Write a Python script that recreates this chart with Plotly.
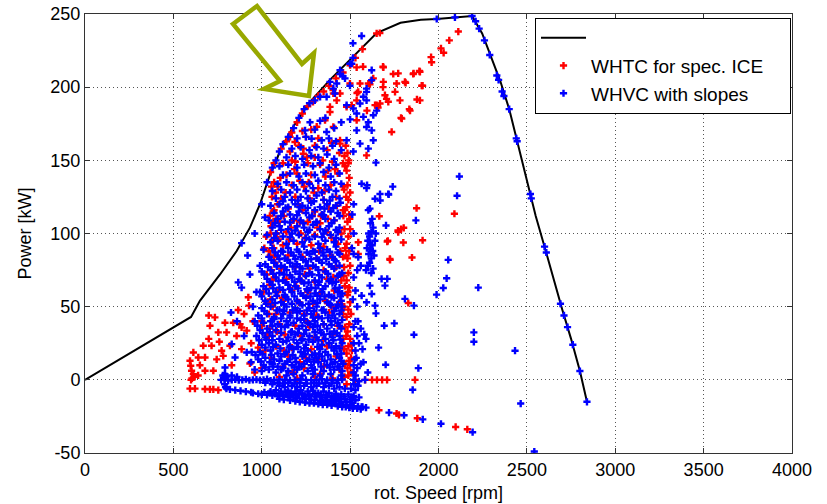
import plotly.graph_objects as go

# ---------------- data ----------------
full_load_rpm = [0, 600, 650, 764, 858, 933, 990, 1046, 1084, 1103, 1178, 1273, 1386, 1518, 1650,
                 1785, 1900, 1990, 2100, 2190, 2247, 2300, 2350, 2400, 2450, 2500, 2550, 2600, 2650,
                 2700, 2750, 2800, 2840]
full_load_kw = [0, 43, 54, 72, 88, 104, 120, 140, 150, 157, 173, 190, 205, 221, 237,
                244, 246, 246.6, 247.5, 248.6, 236.7, 220, 204, 185, 161, 136, 112, 91, 69,
                48, 28, 6, -15]

whtc_pts = [
    # low-speed region
    (924, 56.4), (867, 47.7), (928, 50.7), (735, 42.7), (792, 39), (839, 39), (877, 38), (886, 35.8),
    (707, 37), (754, 32.4), (801, 32.4), (915, 33.6), (858, 30), (669, 23.3), (716, 23.3), (773, 19.9),
    (820, 23.3), (886, 21), (613, 18.7), (641, 15.3), (679, 15.3), (745, 14), (782, 16.4), (933, 11.2),
    (594, 13), (598, 9.6), (603, 6.2), (613, 3.9), (679, 6.2), (726, 6.2), (594, -6), (622, -6),
    (679, -6.3), (707, -6.5), (726, -6.5), (754, -7), (600, 0), (620, 2), (650, 10), (700, 28),
    (760, 26), (830, 10), (900, 45), (950, 40), (940, 25), (960, 5), (605, 1), (640, 3), (700, 44),
    # left red edge of the cloud
    (1040, 45), (1050, 55), (1045, 65), (1055, 75), (1048, 85), (1060, 95), (1052, 105), (1065, 115),
    (1058, 125), (1070, 135), (1080, 60), (1085, 100), (1075, 80), (1090, 120), (1030, 30), (1020, 20),
    (1010, 60), (1000, 40), (1015, 90), (1062, 50), (1070, 70), (1066, 108), (1078, 128), (1044, 35),
    (1035, 52), (1028, 72), (1040, 88), (1046, 112), (1055, 132), (1068, 90), (1082, 110), (1025, 98),
    # right red stripe
    (1480, -3), (1490, 3), (1485, 8), (1495, 13), (1480, 18), (1490, 23), (1500, 28), (1485, 33),
    (1495, 38), (1480, 43), (1490, 48), (1500, 53), (1485, 58), (1495, 63), (1480, 68), (1490, 73),
    (1500, 78), (1485, 83), (1495, 88), (1480, 93), (1490, 98), (1500, 103), (1485, 108), (1495, 113),
    (1480, 118), (1490, 123), (1500, 128), (1485, 133), (1495, 138), (1480, 143), (1490, 148),
    (1485, 155), (1475, 160), (1505, 15), (1510, 20), (1500, 10), (1515, 5), (1478, 30), (1488, 60),
    (1478, 85), (1498, 110), (1478, 125), (1505, 45), (1492, 150), (1508, 24), (1503, 5),
    (1468, 2), (1470, 11), (1466, 21), (1471, 36), (1467, 50), (1470, 64), (1466, 77), (1472, 90),
    (1468, 103), (1470, 116), (1466, 130), (1471, 146), (1468, 153), (1462, 28), (1463, 71), (1462, 112),
    # scattered inside the cloud
    (1100, 2), (1200, 1), (1300, 2), (1400, 1),
    (1000, 8), (1120, 9), (1240, 8), (1350, 9), (1440, 7),
    (1050, 15), (1150, 16), (1250, 15), (1320, 14), (1420, 16),
    (980, 22), (1080, 23), (1170, 22), (1280, 21), (1370, 23), (1450, 22),
    (1040, 30), (1130, 31), (1220, 30), (1300, 29), (1400, 31),
    (1000, 37), (1100, 38), (1190, 37), (1270, 36), (1350, 38), (1430, 37),
    (1080, 45), (1160, 46), (1240, 45), (1310, 44), (1380, 46), (1460, 45),
    (1030, 53), (1120, 54), (1210, 53), (1290, 52), (1360, 54), (1440, 53),
    (1090, 60), (1170, 61), (1260, 60), (1330, 59), (1410, 61),
    (1060, 68), (1140, 69), (1220, 68), (1300, 67), (1370, 69), (1450, 68),
    (1110, 76), (1190, 77), (1270, 76), (1350, 75), (1420, 77),
    (1070, 84), (1150, 85), (1230, 84), (1310, 83), (1390, 85), (1460, 84),
    (1120, 92), (1200, 93), (1280, 92), (1350, 91), (1430, 93),
    (1050, 100), (1140, 101), (1220, 100), (1300, 99), (1370, 101), (1450, 100),
    (1100, 108), (1180, 109), (1260, 108), (1330, 107), (1410, 109),
    (1070, 116), (1150, 117), (1230, 116), (1300, 115), (1380, 117), (1460, 116),
    (1110, 124), (1190, 125), (1270, 124), (1350, 123), (1420, 125),
    (1090, 132), (1170, 133), (1240, 132), (1320, 131), (1390, 133), (1460, 132),
    (1140, 140), (1200, 141), (1280, 140), (1360, 139), (1430, 141),
    (1120, 148), (1190, 149), (1260, 148), (1330, 147), (1400, 149), (1460, 148),
    (1160, 156), (1235, 158), (1235, 154.5), (1301, 160), (1370, 157), (1440, 155),
    (1188, 162.5), (1160, 166), (1443, 161.4), (1443, 163.7), (1250, 166), (1320, 165), (1593, 153.4),
    (1125, 20), (1215, 12), (1345, 27), (1395, 50), (1245, 72), (1155, 96), (1335, 112), (1265, 135),
    (1175, 5), (1330, 4), (1085, 33), (1255, 40), (1195, 64), (1325, 88), (1405, 70), (1115, 56),
    (1095, 96), (1165, 104), (1245, 97), (1315, 104), (1395, 97), (1125, 112), (1205, 120),
    (1285, 112), (1355, 129), (1425, 119), (1105, 138), (1185, 144), (1255, 152), (1345, 150),
    (1415, 144), (1135, 128), (1215, 136), (1295, 128), (1375, 110), (1445, 88), (1210, 160),
    (1280, 171), (1395, 162), (1230, 170), (1170, 150), (1300, 152), (1375, 143), (1215, 108),
    # upper region near the full-load curve
    (1311, 173), (1405, 172.8), (1358, 177.4), (1537, 177.4), (1735, 169.4), (1792, 178.5), (1839, 184),
    (1386, 186.5), (1386, 183), (1424, 191), (1405, 195.7), (1443, 195.7), (1480, 186.5), (1509, 187.7),
    (1537, 191), (1641, 187.7), (1669, 188.8), (1716, 190), (1697, 194.5), (1754, 196.8), (1546, 196.8),
    (1499, 202.5), (1556, 202.5), (1603, 202.5), (1631, 206), (1688, 203.6), (1763, 202.5), (1810, 203.6),
    (1905, 201), (1895, 210.5), (1857, 209), (1772, 209.4), (1744, 209), (1688, 213.5), (1537, 213.5),
    (1650, 187.7), (1706, 192), (1403, 198), (1573, 214), (1686, 214), (1612, 202), (1539, 196),
    (1686, 200), (1782, 191), (1895, 191), (1595, 184), (1658, 186), (1650, 236.7), (1668, 237),
    (1878, 191.6), (1835, 185), (1788, 179), (2112, 238), (2061, 232), (2014, 226.5), (2029, 223.5),
    (1958, 220.5), (1961, 217), (1892, 211), (1859, 209.4), (1814, 203), (1910, 201),
    (1050, 142), (1070, 148), (1110, 158), (1140, 163), (1170, 169), (1200, 176), (1230, 182),
    (1260, 187), (1290, 190), (1320, 194), (1350, 197), (1380, 201), (1420, 206), (1460, 210),
    (1500, 215), (1530, 220), (1570, 226),
    # sparse, right of the cloud
    (1665, 111.8), (1771, 102), (1788, 103), (1713, 95), (1801, 93.8), (1910, 95.4), (1850, 83.6),
    (1726, 82), (1876, 117.3), (2090, 113.5), (1803, 103.9), (1546, 94), (1546, 86), (1710, 94.5),
    (1725, 82.6), (1772, 101), (1829, 52.5),
    (1528, 0), (1585, 0), (1624, 0), (1652, 0), (1681, 0), (1709, 0), (1867, 0),
    (1509, -17.8), (1663, -20.8), (1763, -23), (1776, -24), (1880, -26.3), (2097, -32.2), (2163, -33.8),
]

whvc_pts = [
    # motoring / low-load band
    (1350, -15), (1380, -15.5), (1400, -16), (1420, -16.3), (1440, -16.8), (1460, -17), (1480, -17.5),
    (1500, -17.8), (1520, -18), (1545, -18.2), (1570, -18.5), (1590, -19),
    (1100, -13), (1125, -13.5), (1160, -14), (1190, -14.5), (1215, -15), (1245, -15.5), (1270, -16),
    (1295, -16), (1320, -16.5), (1345, -17), (1370, -17), (1395, -17.5), (1430, -18), (1455, -18.5),
    (1475, -18.5), (1495, -19), (1515, -19.5), (1540, -19.5), (1560, -20),
    (1150, -11.5), (1180, -12), (1200, -12.3), (1230, -12.8), (1250, -13), (1280, -13.5), (1300, -13.8),
    (1330, -14.3), (1360, -14.6), (1390, -14), (1420, -14.5), (1450, -15), (1480, -15.2), (1510, -15.5),
    (950, -9), (980, -9.5), (1000, -10), (1030, -10.3), (1060, -10.6), (1090, -11), (1120, -11),
    (1140, -10), (1170, -10.5), (1210, -10), (1240, -11), (1270, -11.2), (1310, -11.5), (1340, -12),
    (1370, -12), (1410, -12.5), (1440, -13), (1470, -13), (1500, -13.5), (1530, -14),
    (1015, -8.5), (1045, -9), (1075, -9.5), (1105, -9.5), (1135, -8.5), (1165, -9), (1195, -9.5),
    (1230, -9.5), (1265, -10), (1300, -10), (1335, -10.5), (1365, -10.5), (1395, -11), (1430, -11.5),
    (1465, -11.5), (1510, -12),
    (800, -6), (820, -6.5), (850, -7), (880, -7.5), (910, -8), (940, -8.5), (1050, -8), (1080, -7),
    (1110, -8), (1150, -7.5), (1190, -8), (1220, -7), (1260, -8), (1290, -7.5), (1320, -9), (1350, -8),
    (1380, -9), (1420, -9.5), (1450, -10), (1490, -10), (1520, -11), (1550, -12),
    (790, -3), (795, -5), (1100, -4), (1130, -5), (1170, -4), (1200, -5), (1240, -4), (1280, -5),
    (1310, -4), (1350, -5), (1380, -4), (1410, -6), (1440, -5), (1470, -6), (1505, -6), (1530, -7),
    (1020, -2), (1060, -3), (1090, -2), (1120, -2.5), (1150, -2), (1185, -2.5), (1215, -2), (1255, -2.5),
    (1295, -2), (1325, -2.5), (1360, -2), (1395, -2.5), (1425, -2), (1520, -3), (1545, -4),
    (770, 0), (790, 0.5), (810, -0.5), (830, 0), (850, 0.3), (870, -0.2), (890, 0), (910, 0.4),
    (930, -0.3), (950, 0), (970, 0.2), (990, -0.2), (1010, 0), (1030, 0.5), (1050, -0.5), (1070, 0),
    (1100, 0.3), (1130, 0), (1160, -0.3), (1190, 0), (1220, 0.2), (1250, 0), (1280, -0.2), (1310, 0),
    (1340, 0.4), (1370, 0), (1400, -0.3), (1430, 0), (1455, 0.2), (1520, 0), (1550, -1), (1584, 0),
    (780, 3), (800, 2.5), (830, 3), (860, 2), (1140, 3), (1180, 4), (1230, 3), (1290, 4), (1330, 3),
    (1390, 4), (1450, 3), (1530, 3),
    # dense cloud
    (960, 7), (1000, 6), (1040, 7), (1080, 5), (1110, 7), (1150, 6), (1200, 7), (1260, 6), (1300, 7),
    (1350, 6), (1410, 7), (1455, 6), (1540, 8),
    (1020, 8.5), (1065, 9), (1120, 8), (1185, 8.5), (1225, 9), (1285, 8), (1335, 9), (1385, 8.5), (1440, 9),
    (1010, 10), (1060, 11), (1090, 9), (1130, 11), (1170, 10), (1210, 9), (1240, 11), (1280, 10),
    (1320, 12), (1370, 10), (1400, 11), (1430, 9), (1460, 11), (1520, 10), (1560, 11),
    (995, 12.5), (1045, 12), (1100, 13), (1145, 12.5), (1195, 12), (1255, 13), (1295, 12.5), (1355, 13),
    (1415, 12), (1450, 13),
    (980, 14), (1020, 15), (1070, 14), (1110, 16), (1160, 14), (1190, 15), (1230, 16), (1270, 14),
    (1310, 15), (1340, 16), (1390, 14), (1440, 15), (1525, 14),
    (965, 17), (1005, 17.5), (1055, 17), (1130, 17.5), (1175, 17), (1245, 17.5), (1285, 17), (1325, 17.5),
    (1375, 17), (1425, 17.5),
    (943, 19), (990, 19), (1050, 20), (1090, 18), (1140, 19), (1180, 21), (1220, 19), (1260, 20),
    (1300, 18), (1330, 21), (1360, 19), (1410, 20), (1450, 18), (1530, 20), (1570, 21),
    (1020, 22), (1065, 22.5), (1105, 21.5), (1155, 22), (1205, 22.5), (1240, 21.5), (1315, 22.5),
    (1395, 22), (1440, 21.5),
    (1000, 24), (1040, 25), (1080, 24), (1120, 26), (1160, 23), (1200, 25), (1250, 24), (1290, 26),
    (1340, 24), (1380, 25), (1420, 23), (1455, 25), (1520, 25),
    (985, 27), (1025, 27.5), (1060, 27), (1140, 26.5), (1180, 27.5), (1225, 27), (1265, 27.5), (1320, 27),
    (1360, 28), (1405, 27), (1445, 27.5),
    (970, 30), (1020, 29), (1060, 30), (1100, 28), (1150, 29), (1190, 31), (1230, 28), (1270, 30),
    (1310, 29), (1350, 31), (1400, 29), (1440, 30), (1540, 30), (1580, 31),
    (1005, 32), (1045, 32.5), (1110, 32), (1165, 32.5), (1205, 32), (1240, 31.5), (1300, 32.5), (1335, 32),
    (1385, 31.5), (1425, 32),
    (990, 34), (1030, 35), (1080, 34), (1130, 36), (1170, 33), (1210, 35), (1250, 34), (1290, 36),
    (1330, 34), (1370, 35), (1410, 33), (1450, 35), (1520, 36),
    (975, 37), (1060, 37), (1110, 36.5), (1150, 37.5), (1230, 37), (1275, 38), (1315, 37), (1395, 37.5),
    (1440, 37),
    (1010, 39), (1050, 40), (1090, 38), (1140, 40), (1180, 39), (1220, 41), (1260, 39), (1300, 40),
    (1350, 38), (1390, 40), (1430, 39), (1455, 41), (1530, 40), (1693, 37), (1750, 38.6),
    (1000, 42), (1070, 41.5), (1110, 42), (1160, 42.5), (1200, 42), (1240, 41.5), (1290, 42.5), (1340, 42),
    (1375, 42.5), (1415, 42),
    (980, 44), (1030, 45), (1070, 43), (1120, 45), (1160, 44), (1200, 46), (1240, 44), (1280, 45),
    (1320, 43), (1360, 46), (1400, 44), (1440, 45), (1646, 45.4),
    (1015, 47), (1085, 47.5), (1125, 47), (1175, 47.5), (1215, 47), (1255, 47.5), (1295, 47), (1340, 47.5),
    (1410, 47), (1450, 47.5),
    (1000, 49), (1050, 50), (1100, 48), (1140, 50), (1190, 49), (1230, 51), (1270, 49), (1310, 50),
    (1350, 48), (1390, 51), (1420, 49), (1455, 50), (1540, 50), (1641, 50.7),
    (1025, 52), (1075, 52.5), (1125, 51.5), (1170, 52), (1215, 52.5), (1265, 52), (1315, 52.5),
    (1385, 52), (1430, 51.5),
    (1020, 54), (1060, 55), (1110, 53), (1150, 55), (1200, 54), (1250, 56), (1290, 54), (1330, 55),
    (1370, 53), (1410, 56), (1450, 54), (1593, 53), (1565, 57.5), (1622, 58.7), (1515, 55),
    (1000, 57), (1085, 57.5), (1135, 56.5), (1185, 57), (1235, 57.5), (1275, 57), (1315, 57.5), (1355, 57),
    (1395, 56.5), (1445, 57),
    (990, 60), (1040, 59), (1080, 60), (1130, 58), (1170, 60), (1220, 59), (1260, 61), (1300, 59),
    (1340, 60), (1380, 58), (1430, 60), (1455, 59), (1530, 61),
    (1025, 62), (1065, 62.5), (1120, 61.5), (1160, 62), (1205, 62.5), (1255, 62), (1305, 62.5),
    (1345, 62), (1415, 62.5),
    (1010, 64), (1060, 65), (1100, 63), (1150, 65), (1190, 64), (1240, 66), (1280, 63), (1320, 65),
    (1360, 64), (1400, 66), (1440, 63), (1612, 64.4), (1697, 64.4),
    (1045, 67), (1095, 67.5), (1135, 66.5), (1185, 67), (1225, 67.5), (1265, 66.5), (1325, 67),
    (1380, 67.5), (1420, 67),
    (1030, 69), (1080, 70), (1120, 68), (1170, 70), (1210, 69), (1250, 71), (1300, 68), (1340, 70),
    (1390, 69), (1430, 71), (1520, 70), (1678, 69), (1710, 69),
    (1015, 72), (1065, 72.5), (1125, 72), (1160, 71.5), (1215, 72.5), (1285, 72), (1325, 71.5),
    (1375, 72.5), (1440, 72),
    (1000, 74), (1050, 75), (1100, 73), (1140, 75), (1190, 74), (1230, 76), (1270, 73), (1320, 75),
    (1360, 74), (1410, 76), (1455, 73), (1540, 75),
    (1035, 77), (1085, 77.5), (1130, 77), (1175, 77.5), (1215, 77), (1260, 78), (1305, 77), (1395, 77.5),
    (1440, 78),
    (1020, 79), (1070, 80), (1110, 78), (1160, 80), (1200, 79), (1250, 81), (1290, 78), (1340, 80),
    (1380, 79), (1420, 81), (1560, 78),
    (1055, 82), (1100, 82.5), (1145, 82), (1190, 82.5), (1235, 82), (1280, 82.5), (1325, 82), (1365, 82.5),
    (1410, 82),
    (1040, 84), (1090, 85), (1130, 83), (1180, 85), (1220, 84), (1270, 86), (1310, 83), (1350, 85),
    (1400, 84), (1440, 86), (1546, 83.8), (1520, 86),
    (1075, 87), (1120, 87.5), (1165, 87), (1210, 87.5), (1255, 87), (1300, 87.5), (1345, 87),
    (1385, 87.5), (1430, 87),
    (1010, 89), (1060, 90), (1110, 88), (1150, 90), (1200, 89), (1240, 91), (1290, 88), (1330, 90),
    (1370, 89), (1420, 91), (1510, 90),
    (1050, 94), (1090, 95), (1140, 93), (1180, 95), (1230, 94), (1270, 96), (1320, 93), (1360, 95),
    (1410, 94), (1450, 96),
    (1070, 97), (1160, 97.5), (1250, 97), (1340, 97.5), (1420, 97),
    (1030, 99), (1080, 100), (1120, 98), (1170, 100), (1210, 99), (1260, 101), (1300, 98), (1350, 100),
    (1390, 99), (1430, 101), (1520, 100),
    (1110, 102.5), (1190, 102), (1270, 102.5), (1360, 102), (1420, 102.5),
    (1060, 104), (1100, 105), (1150, 103), (1200, 105), (1240, 104), (1290, 106), (1330, 103),
    (1380, 105), (1440, 104), (1703, 105.5),
    (1075, 107), (1160, 107.5), (1235, 107), (1310, 107.5), (1395, 107),
    (1040, 109), (1090, 110), (1130, 108), (1180, 110), (1220, 109), (1270, 111), (1310, 108),
    (1360, 110), (1410, 109), (1512, 113), (1872, 109),
    (1110, 112), (1200, 112.5), (1285, 112), (1350, 112.5), (1440, 112),
    (1070, 114), (1120, 115), (1160, 113), (1210, 115), (1250, 114), (1300, 116), (1340, 113),
    (1390, 115), (1430, 114), (1612, 117), (1603, 116),
    (1135, 117.5), (1215, 118), (1260, 117.5), (1355, 117), (1405, 117.5),
    (1050, 119), (1100, 120), (1150, 118), (1190, 120), (1230, 119), (1280, 121), (1330, 118),
    (1370, 120), (1420, 119), (1520, 120),
    (1120, 122), (1205, 122.5), (1295, 122), (1385, 122.5), (1445, 121),
    (1080, 124), (1130, 125), (1170, 123), (1220, 125), (1260, 124), (1310, 126), (1350, 123),
    (1400, 125), (1440, 124), (1641, 123.7), (1670, 122.6), (1718, 126.7),
    (1060, 129), (1110, 130), (1160, 128), (1200, 130), (1250, 129), (1290, 131), (1340, 128),
    (1380, 130), (1420, 129), (1669, 127), (1716, 127), (1741, 132), (1593, 131), (1565, 134), (1596, 133),
    (1090, 134), (1140, 135), (1180, 133), (1230, 135), (1270, 134), (1320, 136), (1360, 133),
    (1410, 135), (1450, 134),
    (1120, 140), (1160, 141), (1210, 139), (1250, 141), (1300, 140), (1350, 142), (1390, 139),
    (1440, 141), (2118, 139),
    (1100, 146), (1150, 147), (1200, 145), (1240, 147), (1290, 146), (1330, 148), (1380, 145),
    (1420, 147), (1646, 148.4),
    (1140, 152), (1190, 153), (1230, 151), (1280, 153), (1320, 152), (1370, 154), (1410, 151),
    (1518, 156), (1603, 158), (1556, 161.4),
    (1170, 158), (1220, 159), (1270, 157), (1310, 159), (1350, 158), (1400, 160), (1450, 157),
    (1282, 164.8), (1339, 163.7), (1480, 163.7), (1631, 163.7), (1200, 165), (1250, 166), (1380, 165),
    (1420, 163),
    (1245, 170.5), (1367, 169.4), (1537, 170.5), (1622, 170.5), (1593, 172.8), (1300, 171), (1410, 172),
    (1273, 176), (1603, 176), (1330, 177), (1360, 179), (1450, 176), (1500, 178),
    (1518, 185.4), (1537, 182), (1575, 179.7), (1631, 180.8), (1650, 184), (1480, 187.7), (1556, 188.8),
    (1593, 191), (1575, 193.4), (1593, 196.8), (1593, 199), (1622, 204.8), (1622, 211.6), (1509, 216),
    (1471, 206), (1424, 202.5), (1443, 209), (1405, 199), (1386, 203.6), (1414, 195.7), (1367, 193.4),
    (1516, 230), (1565, 235), (1516, 220), (1499, 216), (1499, 201), (1459, 207.5), (1443, 211.6),
    (1330, 193.4),
    (1060, 145), (1080, 150), (1100, 156), (1120, 161), (1150, 166), (1180, 172), (1210, 179),
    (1240, 185), (1270, 189), (1300, 191),
    # sparse, left of the cloud
    (886, 93.4), (867, 66.6), (886, 63), (933, 72), (990, 78), (1018, 111), (826, 46), (830, 24.4),
    (915, 18.7), (849, 15.3), (792, 8.4), (792, 3.9), (860, 40), (900, 30), (950, 50), (970, 60),
    (920, 85), (960, 100), (1000, 120), (1030, 135), (940, 12), (960, 40),
    # just right of the cloud
    (1520, 5), (1535, 15), (1550, 25), (1560, 35), (1575, 12), (1590, 28), (1545, 40), (1600, 5),
    (1590, 75), (1600, 78), (1610, 80), (1620, 83), (1605, 86), (1615, 89), (1625, 92), (1600, 95),
    (1610, 98), (1620, 101), (1630, 104), (1615, 107), (1625, 110), (1635, 85), (1640, 95), (1595, 90),
    (1605, 100), (1630, 76), (1620, 73), (1645, 100), (1612, 92), (1628, 88),
    # sparse, far right
    (1661, 22), (1701, 10.3), (1886, 8), (1854, -6.8), (1810, 55.3), (1861, 50.7), (1861, 30.8),
    (2200, 32.4), (2200, 26), (1989, 58.2), (2055, 82), (2046, 69.4), (2027, 62.8), (2225, 63),
    (2433, 19.9), (2465, -16.2), (1911, -27), (2014, -30), (2193, -35.8), (2542, -49), (1720, -22.4),
    (1805, -24.2), (1565, -18.5), (2105, 125.8),
    # on the full-load curve
    (1990, 246.6), (2093, 247.7), (2190, 248.6), (2210, 245), (2230, 240), (2260, 232), (2290, 222),
    (2330, 208), (2340, 205), (2360, 197), (2370, 194), (2400, 185), (2440, 165), (2445, 163),
    (2520, 127), (2525, 124), (2600, 91), (2610, 87), (2690, 52), (2710, 44), (2730, 36), (2760, 24),
    (2800, 6), (2840, -15),
]

whtc_rpm = [p[0] for p in whtc_pts]
whtc_kw = [p[1] for p in whtc_pts]
whvc_rpm = [p[0] for p in whvc_pts]
whvc_kw = [p[1] for p in whvc_pts]

x_ticks = [0, 500, 1000, 1500, 2000, 2500, 3000, 3500, 4000]
y_ticks = [-50, 0, 50, 100, 150, 200, 250]

FONT = "Liberation Sans, Arial, sans-serif"

fig = go.Figure()
fig.add_trace(go.Scatter(x=full_load_rpm, y=full_load_kw, mode="lines", name="",
                         line=dict(color="black", width=2), legendgroup="a"))
fig.add_trace(go.Scatter(x=whtc_rpm, y=whtc_kw, mode="markers",
                         name="WHTC for spec. ICE\u00a0\u00a0\u00a0\u00a0",
                         marker=dict(symbol="cross", size=6, color="#ff0000"), legendgroup="b"))
fig.add_trace(go.Scatter(x=whvc_rpm, y=whvc_kw, mode="markers", name="WHVC with slopes",
                         marker=dict(symbol="cross", size=6, color="#0000ff"), legendgroup="c"))

# hollow arrow annotation (paper coordinates)
arrow = [(0.2093, 0.9772), (0.2433, 1.0182), (0.3069, 0.8861), (0.3239, 0.9112),
         (0.3168, 0.8132), (0.2532, 0.8292), (0.2758, 0.8474)]
path = "M " + " L ".join(f"{x},{y}" for x, y in arrow) + " Z"
fig.add_shape(type="path", path=path, xref="paper", yref="paper",
              line=dict(color="#98a800", width=4.5), fillcolor="white", layer="above")

axis_common = dict(showline=True, linecolor="#333333", linewidth=1, mirror="ticks",
                   ticks="inside", ticklen=5, tickcolor="#333333", automargin=False,
                   ticklabeloverflow="allow",
                   showgrid=True, gridcolor="#555555", gridwidth=1, griddash="1px,3px",
                   zeroline=False, tickfont=dict(family=FONT, size=18, color="black"))

fig.update_xaxes(range=[0, 4000], tickvals=x_ticks, ticktext=[str(v) for v in x_ticks],
                 title=dict(text="rot. Speed [rpm]", font=dict(family=FONT, size=18, color="black"),
                            standoff=7), **axis_common)
fig.update_yaxes(range=[-50, 250], tickvals=y_ticks, ticktext=[str(v) for v in y_ticks],
                 title=dict(text="Power [kW]", font=dict(family=FONT, size=18, color="black"),
                            standoff=14), **axis_common)

fig.update_layout(
    width=827, height=504,
    margin=dict(l=85, r=35, t=14, b=51),
    plot_bgcolor="white", paper_bgcolor="white",
    font=dict(family=FONT, color="black"),
    legend=dict(x=0.6365, y=0.9909, xanchor="left", yanchor="top",
                bgcolor="white", bordercolor="black", borderwidth=1,
                font=dict(family=FONT, size=19, color="black"),
                traceorder="grouped", tracegroupgap=0, itemwidth=45),
    showlegend=True,
)

# remove the browser's default 8 px page margin so the figure fills the window exactly
fig.write_html("out.html", config={"displayModeBar": False},
               post_script="document.body.style.margin='0';document.body.style.overflow='hidden';")
